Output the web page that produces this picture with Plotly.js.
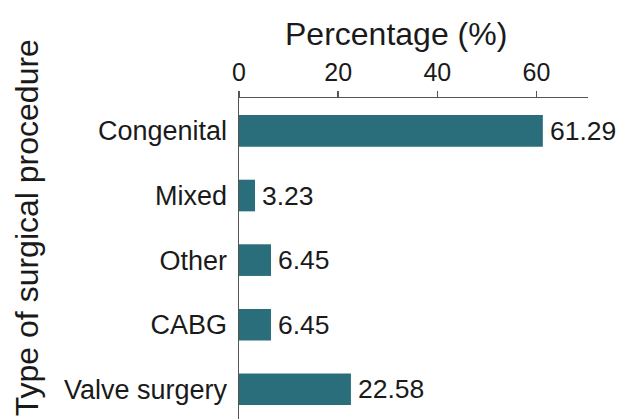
<!DOCTYPE html>
<html>
<head>
<meta charset="utf-8">
<script src="https://cdn.plot.ly/plotly-3.0.1.min.js"></script>
<style>
  html, body { margin: 0; padding: 0; background: #ffffff; }
  #chart { width: 622px; height: 419px; }
</style>
</head>
<body>
<div id="chart"></div>
<script>
// Share of cases by type of surgical procedure
const procedures = ["Congenital", "Mixed", "Other", "CABG", "Valve surgery"];
const percentages = [61.29, 3.23, 6.45, 6.45, 22.58];
const xTicks = [0, 20, 40, 60];

const FONT = "Liberation Sans, Arial, Helvetica, sans-serif";
const INK = "#1a1a1a";
const AXIS = "#555555";
const BAR = "#2b6e7b";

const bars = {
  type: "bar",
  orientation: "h",
  y: procedures,
  x: percentages,
  width: 0.49,
  marker: { color: BAR, line: { width: 0 } },
  hoverinfo: "x+y"
};

// value labels placed just past the end of each bar
const valueLabels = procedures.map((p, i) => ({
  x: percentages[i],
  y: p,
  xref: "x",
  yref: "y",
  text: percentages[i].toFixed(2),
  showarrow: false,
  xanchor: "left",
  yanchor: "middle",
  xshift: 5,
  font: { family: FONT, size: 26.5, color: INK }
}));

const layout = {
  width: 622,
  height: 419,
  margin: { l: 239, r: 34, t: 98, b: 0, pad: 0 },
  paper_bgcolor: "#ffffff",
  plot_bgcolor: "#ffffff",
  showlegend: false,
  font: { family: FONT, color: INK },
  xaxis: {
    side: "top",
    range: [0, 70.4],
    tickvals: xTicks,
    ticktext: xTicks.map(String),
    ticks: "outside",
    ticklen: 6,
    tickwidth: 1.5,
    tickcolor: AXIS,
    showline: true,
    linecolor: AXIS,
    linewidth: 1.5,
    showgrid: false,
    zeroline: false,
    tickfont: { family: FONT, size: 25, color: INK }
  },
  yaxis: {
    type: "category",
    categoryorder: "array",
    categoryarray: procedures,
    range: [4.46, -0.51],
    showline: true,
    linecolor: AXIS,
    linewidth: 1.5,
    ticks: "",
    ticklabelstandoff: 5,
    showgrid: false,
    zeroline: false,
    tickfont: { family: FONT, size: 27, color: INK }
  },
  annotations: [
    {
      text: "Percentage (%)",
      xref: "paper", yref: "paper",
      x: 0.451, y: 1.2,
      xanchor: "center", yanchor: "middle",
      showarrow: false,
      font: { family: FONT, size: 32, color: INK }
    },
    {
      text: "Type of surgical procedure",
      xref: "paper", yref: "paper",
      x: -0.605, y: 0.597,
      xanchor: "center", yanchor: "middle",
      textangle: -90,
      showarrow: false,
      font: { family: FONT, size: 32, color: INK }
    }
  ].concat(valueLabels)
};

Plotly.newPlot("chart", [bars], layout, { displayModeBar: false, staticPlot: true });
</script>
</body>
</html>
